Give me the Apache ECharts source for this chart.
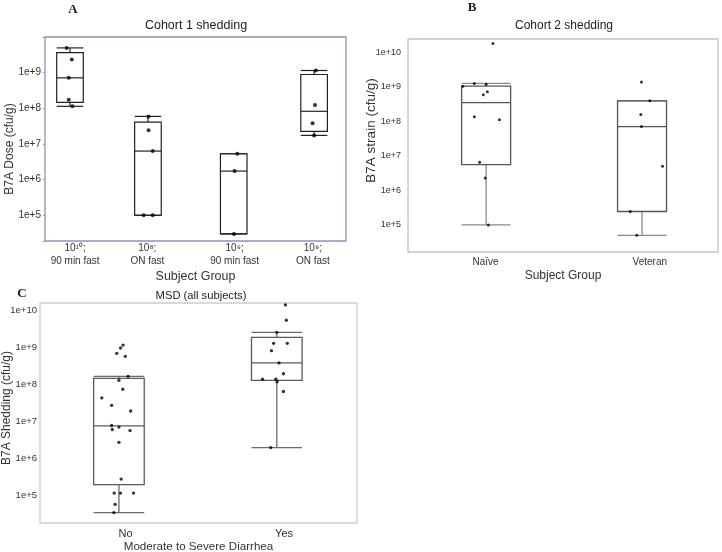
<!DOCTYPE html>
<html>
<head>
<meta charset="utf-8">
<script src="https://cdn.jsdelivr.net/npm/echarts@6/dist/echarts.min.js"></script>
<style>
  html, body { margin: 0; padding: 0; background: #fff; }
  #chart { width: 722px; height: 552px; }
</style>
</head>
<body>
<div id="chart"></div>
<script>
// ---- panel A: Cohort 1 shedding ----
const groupsA = ['10\u00b9\u2070;\n90 min fast', '10\u2078;\nON fast', '10\u2079;\n90 min fast', '10\u2079;\nON fast'];
const labelPosA = [10, 34, 63, 89];
const boxPosA = [8.3, 34.2, 62.7, 89.4];
// min, Q1, median, Q3, max
const statsA = [
  [1.13e8, 1.46e8, 7.1e8, 3.6e9, 4.9e9],
  [1e5, 1e5, 6.3e6, 4.1e7, 5.9e7],
  [3e4, 3e4, 1.73e6, 5.3e6, 5.3e6],
  [1.73e7, 2.24e7, 8.2e7, 8.8e8, 1.14e9]
];
const pointsA = [
  [7.2, 4.9e9], [8.9, 2.3e9], [7.9, 7.1e8], [7.9, 1.74e8], [9.1, 1.13e8],
  [34.4, 5.9e7], [34.4, 2.4e7], [35.8, 6.3e6], [32.8, 1e5], [35.8, 1e5],
  [63.9, 5.3e6], [63.0, 1.73e6], [62.8, 3e4],
  [90.0, 1.14e9], [89.7, 1.24e8], [88.9, 3.8e7], [89.4, 1.73e7]
];

// ---- panel B: Cohort 2 shedding ----
const groupsB = ['Na\u00efve', 'Veteran'];
const labelPosB = [25, 78];
const boxPosB = [25.2, 75.5];
const statsB = [
  [1e5, 5.6e6, 3.5e8, 1.05e9, 1.26e9],
  [5e4, 2.45e5, 7.1e7, 3.95e8, 3.95e8]
];
const pointsB = [
  [27.4, 1.8e10], [21.4, 1.26e9], [17.7, 1.05e9], [25.2, 1.2e9], [24.3, 5.9e8],
  [25.6, 7.3e8], [21.4, 1.37e8], [29.5, 1.12e8], [23.1, 6.6e6], [24.9, 2.3e6], [25.9, 1e5],
  [75.3, 1.4e9], [78.0, 3.95e8], [75.1, 1.6e8], [75.3, 7.1e7], [82.1, 5e6],
  [71.7, 2.45e5], [73.8, 5e4]
];

// ---- panel C: MSD (all subjects) ----
const groupsC = ['No', 'Yes'];
const labelPosC = [27, 77];
const boxPosC = [24.9, 74.7];
const statsC = [
  [3.4e4, 1.94e5, 7.5e6, 1.45e8, 1.64e8],
  [1.95e6, 1.28e8, 3.8e8, 1.87e9, 2.55e9]
];
const pointsC = [
  [26.2, 1.15e9], [25.4, 9.6e8], [24.2, 6.9e8], [26.9, 5.7e8], [27.8, 1.64e8],
  [24.9, 1.28e8], [26.1, 7.4e7], [19.5, 4.3e7], [22.6, 2.7e7], [28.6, 1.9e7],
  [22.6, 7.7e6], [24.9, 7.0e6], [22.8, 6.0e6], [28.4, 5.6e6], [24.9, 2.7e6],
  [25.6, 2.75e5], [23.4, 1.15e5], [25.4, 1.15e5], [29.5, 1.15e5], [23.7, 5.7e4], [23.3, 3.4e4],
  [77.4, 1.4e10], [77.7, 5.4e9], [74.7, 2.55e9], [73.7, 1.28e9], [78.0, 1.28e9],
  [73.0, 8.1e8], [75.4, 3.8e8], [76.8, 1.93e8], [70.2, 1.38e8], [74.4, 1.38e8],
  [74.8, 1.17e8], [76.8, 6.4e7], [72.8, 1.95e6]
];

const font = 'Liberation Sans, Arial, sans-serif';

function boxData(pos, stats) {
  return stats.map((s, i) => [pos[i]].concat(s));
}

function logLabel(v) {
  const e = Math.log10(v);
  const r = Math.round(e);
  return Math.abs(e - r) < 1e-6 ? '1e+' + r : '';
}

function catLabel(pos, names) {
  return function (v) {
    const i = pos.indexOf(Math.round(v));
    return (i >= 0 && Math.abs(v - pos[i]) < 1e-6) ? names[i] : '';
  };
}

function boxRenderer(boxWidth, boxColor, whiskerColor, lw) {
  return function (params, api) {
    const x = api.value(0);
    const lo = api.coord([x, api.value(1)]);
    const q1 = api.coord([x, api.value(2)]);
    const md = api.coord([x, api.value(3)]);
    const q3 = api.coord([x, api.value(4)]);
    const hi = api.coord([x, api.value(5)]);
    const cx = lo[0], h = boxWidth / 2;
    const seg = (x1, y1, x2, y2, c) => ({
      type: 'line', shape: { x1: x1, y1: y1, x2: x2, y2: y2 },
      style: { stroke: c, lineWidth: lw }
    });
    return {
      type: 'group',
      children: [
        seg(cx, hi[1], cx, q3[1], whiskerColor),
        seg(cx, lo[1], cx, q1[1], whiskerColor),
        seg(cx - h, hi[1], cx + h, hi[1], whiskerColor),
        seg(cx - h, lo[1], cx + h, lo[1], whiskerColor),
        { type: 'rect', shape: { x: cx - h, y: q3[1], width: boxWidth, height: q1[1] - q3[1] },
          style: { fill: 'none', stroke: boxColor, lineWidth: lw } },
        seg(cx - h, md[1], cx + h, md[1], boxColor)
      ]
    };
  };
}

function xAxisFor(idx, pos, names, opts) {
  return {
    gridIndex: idx, type: 'value', min: 0, max: 100, interval: 1,
    axisLine: { show: false }, axisTick: { show: false }, splitLine: { show: false },
    axisLabel: { formatter: catLabel(pos, names), fontSize: opts.fs, lineHeight: opts.lh,
      margin: opts.margin, color: '#333', fontFamily: font },
    name: 'Subject Group', nameLocation: 'middle', nameGap: opts.nameGap, nameMoveOverlap: false,
    nameTextStyle: { fontSize: opts.nameFs, color: '#333', fontFamily: font }
  };
}

function yAxisFor(idx, min, max, opts) {
  return {
    gridIndex: idx, type: 'log', logBase: 10, min: min, max: max,
    axisLine: { show: false },
    axisTick: { show: opts.tick, length: 2, lineStyle: { color: '#999' } },
    splitLine: { show: false }, minorTick: { show: false },
    axisLabel: { formatter: logLabel, fontSize: opts.fs, margin: opts.margin, color: '#333', fontFamily: font },
    name: opts.name, nameLocation: 'middle', nameGap: opts.nameGap, nameMoveOverlap: false,
    nameTextStyle: { fontSize: opts.nameFs, color: '#333', fontFamily: font, padding: opts.namePad }
  };
}

const titleFont = (size, weight, family) => ({ fontSize: size, fontWeight: weight, color: '#222', fontFamily: family });
const serif = 'Liberation Serif, DejaVu Serif, serif';

const chart = echarts.init(document.getElementById('chart'));
const xA = xAxisFor(0, labelPosA, groupsA, { fs: 10, lh: 12.5, margin: 1, nameGap: 29, nameFs: 12.5 });
const xB = xAxisFor(1, labelPosB, groupsB, { fs: 10, lh: 12, margin: 4, nameGap: 18, nameFs: 12 });
const xC = xAxisFor(2, labelPosC, groupsC, { fs: 11, lh: 12, margin: 5, nameGap: 18, nameFs: 11.6 });
xC.name = 'Moderate to Severe Diarrhea';

chart.setOption({
  animation: false,
  textStyle: { fontFamily: font },
  title: [
    { text: 'A', left: 73, top: 3, textAlign: 'center', padding: 0, textStyle: titleFont(13, 'bold', serif) },
    { text: 'B', left: 472, top: 1, textAlign: 'center', padding: 0, textStyle: titleFont(13, 'bold', serif) },
    { text: 'C', left: 22, top: 287, textAlign: 'center', padding: 0, textStyle: titleFont(13, 'bold', serif) },
    { text: 'Cohort 1 shedding', left: 196, top: 19, textAlign: 'center', padding: 0, textStyle: titleFont(12.5, 'normal', font) },
    { text: 'Cohort 2 shedding', left: 564, top: 20, textAlign: 'center', padding: 0, textStyle: titleFont(12, 'normal', font) },
    { text: 'MSD (all subjects)', left: 201, top: 290, textAlign: 'center', padding: 0, textStyle: titleFont(11.2, 'normal', font) }
  ],
  grid: [
    { left: 45, top: 37, width: 301, height: 204, show: true, borderColor: '#8e93b5', borderWidth: 1.3, outerBoundsMode: 'none' },
    { left: 408, top: 39, width: 310, height: 213, show: true, borderColor: '#c4c4c4', borderWidth: 1.3, outerBoundsMode: 'none' },
    { left: 40, top: 303, width: 317, height: 220, show: true, borderColor: '#cdcdcd', borderWidth: 1.3, outerBoundsMode: 'none' }
  ],
  xAxis: [xA, xB, xC],
  yAxis: [
    yAxisFor(0, 1.9e4, 9.9e9, { tick: true, fs: 10, margin: 4, name: 'B7A Dose (cfu/g)', nameGap: 29, nameFs: 12, namePad: [0, 20, 0, 0] }),
    yAxisFor(1, 1.64e4, 2.45e10, { tick: false, fs: 9, margin: 7, name: 'B7A strain (cfu/g)', nameGap: 30, nameFs: 13.5, namePad: [0, 0, 0, 30] }),
    yAxisFor(2, 1.78e4, 1.58e10, { tick: false, fs: 9.5, margin: 3, name: 'B7A Shedding (cfu/g)', nameGap: 27, nameFs: 12, namePad: [0, 0, 0, 10] })
  ],
  series: [
    { type: 'custom', xAxisIndex: 0, yAxisIndex: 0, data: boxData(boxPosA, statsA),
      encode: { x: 0, y: [1, 2, 3, 4, 5] }, renderItem: boxRenderer(26.6, '#222', '#222', 1.2), z: 2 },
    { type: 'custom', xAxisIndex: 1, yAxisIndex: 1, data: boxData(boxPosB, statsB),
      encode: { x: 0, y: [1, 2, 3, 4, 5] }, renderItem: boxRenderer(49, '#555', '#8a8a8a', 1.3), z: 2 },
    { type: 'custom', xAxisIndex: 2, yAxisIndex: 2, data: boxData(boxPosC, statsC),
      encode: { x: 0, y: [1, 2, 3, 4, 5] }, renderItem: boxRenderer(50.6, '#5a5a5a', '#6a6a6a', 1.3), z: 2 },
    { type: 'scatter', xAxisIndex: 0, yAxisIndex: 0, data: pointsA, symbolSize: 4,
      itemStyle: { color: '#000' }, z: 3 },
    { type: 'scatter', xAxisIndex: 1, yAxisIndex: 1, data: pointsB, symbolSize: 3,
      itemStyle: { color: '#000' }, z: 3 },
    { type: 'scatter', xAxisIndex: 2, yAxisIndex: 2, data: pointsC, symbolSize: 3.3,
      itemStyle: { color: '#000' }, z: 3 }
  ]
});
</script>
</body>
</html>
